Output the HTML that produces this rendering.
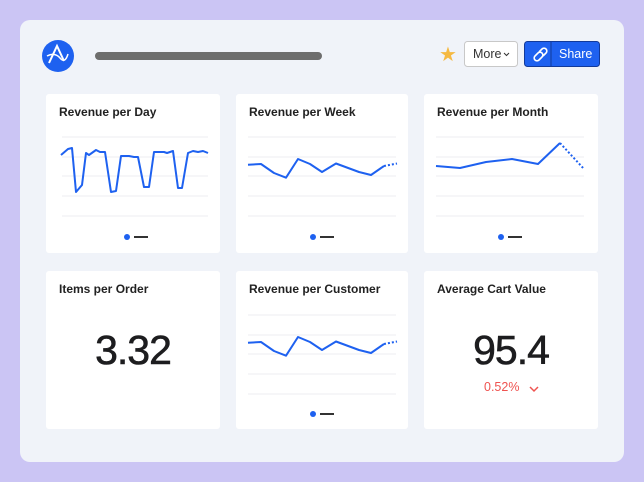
<!DOCTYPE html><html><head><style>
body{margin:0;width:644px;height:482px;background:#cbc5f4;font-family:"Liberation Sans",sans-serif;position:relative;overflow:hidden}
.panel{position:absolute;left:20px;top:20px;width:604px;height:442px;background:#f0f3f9;border-radius:10px}
.card{position:absolute;background:#fff;border-radius:3px}
.t{position:absolute;left:13px;top:11px;font-size:12px;font-weight:bold;color:#222}
.big{position:absolute;width:100%;text-align:center;font-size:41px;color:#1d1d1f;letter-spacing:-1px;-webkit-text-stroke:0.6px #1d1d1f}
</style></head><body>
<div class="panel"></div>
<svg width="644" height="482" style="position:absolute;left:0;top:0">
<circle cx="58" cy="56" r="16" fill="#1e61f0"/>
<path d="M49 63 L57 46 L64 61" fill="none" stroke="#fff" stroke-width="2"/>
<path d="M47 56 Q55 52 60 58 Q65 64 68 54" fill="none" stroke="#fff" stroke-width="1.5"/>
<rect x="95" y="52" width="227" height="8" rx="4" fill="#6d6d6d"/>
<text x="448" y="61" font-size="20" fill="#f5b942" text-anchor="middle">★</text>
<rect x="464.5" y="41.5" width="53" height="25" rx="3" fill="#fff" stroke="#c8c8c8"/>
<text x="473" y="58" font-size="12.5" fill="#333" font-family="Liberation Sans">More</text>
<path d="M504 53 l2.5 2.5 l2.5 -2.5" fill="none" stroke="#333" stroke-width="1"/>
<rect x="524.5" y="41.5" width="75" height="25" rx="3" fill="#1e61f0" stroke="#123a9a"/>
<line x1="551" y1="42" x2="551" y2="66" stroke="#123a9a"/>
<g fill="none" stroke="#fff" stroke-width="1.6"><path d="M535 56 l3 -3 a2.5 2.5 0 0 1 4 4 l-3 3 a2.5 2.5 0 0 1 -4 -4z"/><path d="M539 52 l3 -3 a2.5 2.5 0 0 1 4 4 l-3 3"/></g>
<text x="559" y="58" font-size="12.5" fill="#fff" font-family="Liberation Sans">Share</text>
</svg>
<div class="card" style="left:46px;top:94px;width:174px;height:159px"><div class="t">Revenue per Day</div></div>
<div class="card" style="left:236px;top:94px;width:172px;height:159px"><div class="t">Revenue per Week</div></div>
<div class="card" style="left:424px;top:94px;width:174px;height:159px"><div class="t">Revenue per Month</div></div>
<div class="card" style="left:46px;top:271px;width:174px;height:158px"><div class="t">Items per Order</div><div class="big" style="top:56px">3.32</div></div>
<div class="card" style="left:236px;top:271px;width:172px;height:158px"><div class="t">Revenue per Customer</div></div>
<div class="card" style="left:424px;top:271px;width:174px;height:158px"><div class="t">Average Cart Value</div><div class="big" style="top:56px">95.4</div>
<div style="position:absolute;left:60px;top:109px;font-size:12.5px;color:#ef5350">0.52%</div>
<svg style="position:absolute;left:104px;top:113px" width="12" height="10"><path d="M2 3 l4 4 l4 -4" fill="none" stroke="#ef5350" stroke-width="1.5"/></svg></div>
<svg width="644" height="482" style="position:absolute;left:0;top:0">
<g stroke="#eceef2" stroke-width="1">
<path d="M62 137H208M62 157H208M62 176H208M62 196H208M62 216H208"/>
<path d="M248 137H396M248 157H396M248 176H396M248 196H396M248 216H396"/>
<path d="M436 137H584M436 157H584M436 176H584M436 196H584M436 216H584"/>
<path d="M248 315H396M248 335H396M248 354H396M248 374H396M248 394H396"/>
</g>
<g fill="none" stroke="#1e61f0" stroke-width="2" stroke-linejoin="round">
<polyline points="61,155 68,149 72,148 76,192 82,185 86,153 89,155 96,150 100,152 105,152 111,192 116,191 121,156 125,156 129,156 134,157 138,157 144,187 149,187 154,152 164,152 167,153 173,151 178,188 182,188 188,153 193,151 198,152 203,151 208,153"/>
<polyline points="248,164.7 261,164 274,173 286,177.7 298,159 310,164 322,172 336,163.5 359,172 371,175 384,166"/>
<polyline points="436,166 460,168 486,162 512,159 538,164 560,143"/>
<polyline points="248,342.7 261,342 274,351 286,355.7 298,337 310,342 322,350 336,341.5 359,350 371,353 384,344"/>
</g>
<g fill="none" stroke="#1e61f0" stroke-width="2" stroke-dasharray="2 2">
<polyline points="384,166 397,163.5"/><polyline points="560,143 584,169"/><polyline points="384,344 397,341.5"/>
</g>
<g fill="#1e61f0"><circle cx="127" cy="237" r="3"/><circle cx="313" cy="237" r="3"/><circle cx="501" cy="237" r="3"/><circle cx="313" cy="414" r="3"/></g>
<g stroke="#333" stroke-width="2"><path d="M134 237H148M320 237H334M508 237H522M320 414H334"/></g>
</svg>
</body></html>
